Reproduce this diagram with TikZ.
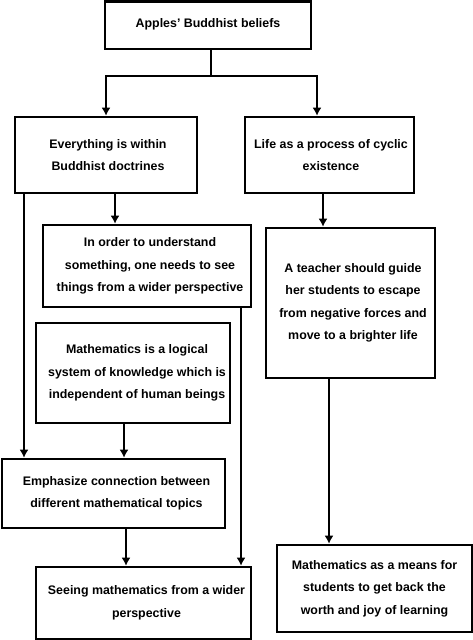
\documentclass[tikz,border=0pt]{standalone}
\usepackage{fontspec}
\setmainfont{Liberation Sans}
\usetikzlibrary{arrows.meta}
\begin{document}
\begin{tikzpicture}[x=1pt,y=-1pt,
  box/.style={draw, line width=2.6pt, inner sep=0pt, align=center,
    font=\fontsize{12.4}{22.5}\selectfont\bfseries},
  conn/.style={line width=2.2pt},
  arr/.style={conn, -{Latex[width=9pt,length=8pt]}}]
\useasboundingbox (0,0) rectangle (473,640);
\node[box, minimum width=206, minimum height=47.5] (A) at (208,25.2) {\raisebox{5pt}{Apples’ Buddhist beliefs}};
\node[box, minimum width=182, minimum height=76] (B) at (106,155) {\hspace*{4pt}Everything is within\\\hspace*{4pt}Buddhist doctrines};
\node[box, minimum width=169, minimum height=76] (C) at (329.5,155) {\hspace*{3pt}Life as a process of cyclic\\\hspace*{3pt}existence};
\node[box, minimum width=208, minimum height=82] (D) at (147,266) {\hspace*{6pt}In order to understand\\\hspace*{6pt}something, one needs to see\\\hspace*{6pt}things from a wider perspective};
\node[box, minimum width=194, minimum height=100] (E) at (133,373) {\hspace*{8pt}Mathematics is a logical\\\hspace*{8pt}system of knowledge which is\\\hspace*{8pt}independent of human beings};
\node[box, minimum width=223, minimum height=69] (F) at (113.5,493.5) {\hspace*{6pt}Emphasize connection between\\\hspace*{6pt}different mathematical topics};
\node[box, minimum width=215, minimum height=72] (G) at (143.5,603) {\hspace*{6pt}Seeing mathematics from a wider\\\hspace*{6pt}perspective};
\node[box, minimum width=169, minimum height=150] (H) at (350.5,303) {\hspace*{5pt}A teacher should guide\\\hspace*{5pt}her students to escape\\\hspace*{5pt}from negative forces and\\\hspace*{5pt}move to a brighter life};
\node[box, minimum width=195, minimum height=87] (I) at (374.5,588.5) {Mathematics as a means for\\students to get back the\\worth and joy of learning};
% junction
\coordinate (j) at (211,76);
\coordinate (cx) at (317,0);
\draw[conn] (A.south -| j) -- (j);
\draw[arr] (j) -| (B.north);
\draw[arr] (j) -| (C.north -| cx);
\coordinate (bx) at (115,0);
\coordinate (lx) at (24,0);
\coordinate (dx) at (241,0);
\coordinate (ex) at (124,0);
\coordinate (fx) at (126,0);
\coordinate (hx) at (323,0);
\coordinate (ix) at (329,0);
\draw[arr] (B.south -| bx) -- (D.north -| bx);
\draw[arr] (B.south -| lx) -- (F.north -| lx);
\draw[arr] (D.south -| dx) -- (G.north -| dx);
\draw[arr] (E.south -| ex) -- (F.north -| ex);
\draw[arr] (F.south -| fx) -- (G.north -| fx);
\draw[arr] (C.south -| hx) -- (H.north -| hx);
\draw[arr] (H.south -| ix) -- (I.north -| ix);
\end{tikzpicture}
\end{document}
